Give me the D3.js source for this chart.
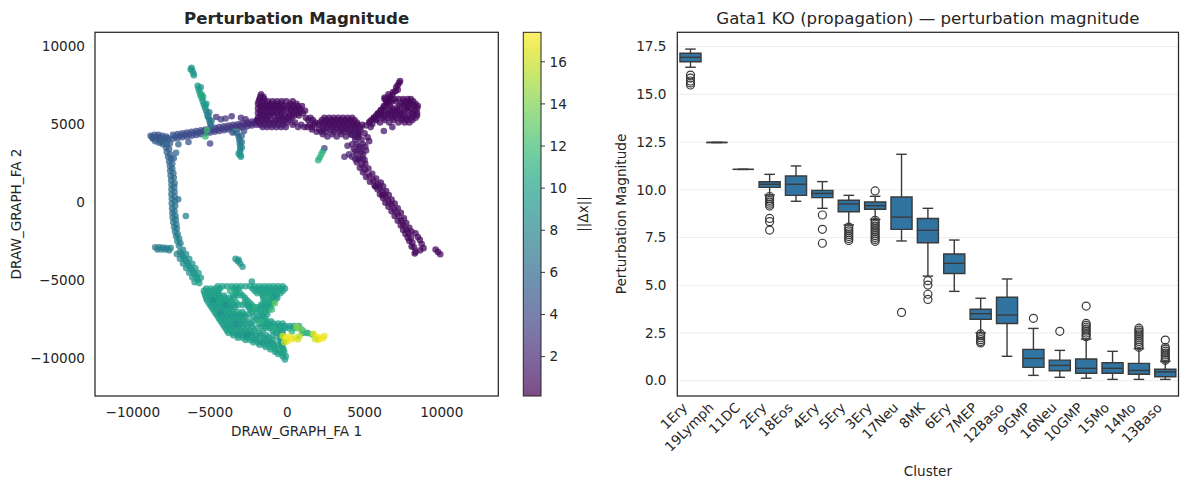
<!DOCTYPE html>
<html>
<head>
<meta charset="utf-8">
<script src="https://cdn.jsdelivr.net/npm/d3@7"></script>
<style>
  body { margin: 0; background: #fff; }
  svg text { font-family: "DejaVu Sans", sans-serif; fill: #262626; }
</style>
</head>
<body>
<div id="chart"></div>
<script>
/**
 * DATA — left panel: cells on the force-directed layout, [x, y, ||dx||]
 * */
const spikeTop = [[-6200,8600,9.4],[-6150,8430,9.6],[-6080,8250,9.5],[-6050,8120,9.3],[-6250,8500,9.2]];

const branchUpperLeft = [
  [-5800,7450,9.3],[-5750,7250,9.6],[-5680,7050,10.0],[-5620,6850,10.3],[-5540,6650,10.1],[-5470,6450,9.6],
  [-5400,6250,9.1],[-5330,6050,8.7],[-5250,5850,8.3],[-5180,5650,7.9],[-5110,5450,7.6],[-5050,5250,7.2],
  [-5000,5050,6.8],[-4950,4850,6.4],[-5550,6900,10.5],[-5300,6150,9.8],[-5150,5500,8.0],[-5200,4600,12.0],
  [-5600,7350,9.0],[-5450,6750,10.2],[-5250,6300,9.4],[-5050,5750,7.5],[-4900,5200,7.0]
];

const bandUpperLeft = [
  [-8850,4250,4.6],[-8600,4300,4.8],[-8350,4300,4.7],[-8100,4250,4.9],[-7850,4200,5.0],
  [-8700,4050,4.9],[-8450,4050,5.1],[-8200,4000,5.0],[-7950,3950,5.2],[-7700,4000,5.0],
  [-8300,3800,5.3],[-8050,3700,5.5],[-7800,3700,5.6],[-7600,3750,5.4],
  [-8750,4150,4.5],[-8500,4180,4.9],[-8250,4150,4.6],[-8000,4100,5.1],[-7750,4100,4.8],[-8550,3900,5.2],[-8150,3850,5.4],
  [-7400,4050,4.6],[-7400,4300,4.4],[-7100,4100,4.5],[-7100,4350,4.3],[-6800,4150,4.4],[-6800,4400,4.2],
  [-6500,4200,4.3],[-6500,4450,4.1],[-6200,4250,4.2],[-6200,4500,4.0],[-5900,4300,4.1],[-5900,4550,3.9],
  [-5600,4350,4.0],[-5600,4600,3.8],[-5300,4400,3.9],[-5300,4650,3.7],[-5000,4450,3.8],[-5000,4700,3.6],
  [-4700,4500,3.6],[-4700,4750,3.4],[-4400,4550,3.5],[-4400,4800,3.3],[-4100,4600,3.4],[-4100,4850,3.2],
  [-3800,4650,3.3],[-3800,4900,3.1],[-3500,4700,3.2],[-3500,4950,3.0],[-3200,4720,3.1],[-3200,4980,2.9],
  [-2900,4780,2.9],[-2900,5050,2.6],[-2600,4850,2.6],[-2600,5100,2.3],[-2300,4900,2.3],[-2300,5150,2.0],
  [-2000,4950,2.0],[-2000,5200,1.8],
  [-7250,4200,4.7],[-6950,4250,4.5],[-6650,4300,4.3],[-6350,4350,4.2],[-6050,4400,4.1],[-5750,4450,4.0],
  [-5450,4500,3.8],[-5150,4550,3.7],[-4850,4600,3.5],[-4550,4650,3.4],[-4250,4700,3.3],[-3950,4750,3.2],
  [-3650,4800,3.1],[-3350,4850,3.0],[-3050,4900,2.8],[-2750,4950,2.5],[-2450,5000,2.2],[-2150,5050,1.9],
  [-4600,5450,2.6],[-4300,5300,3.0],[-4000,5350,2.8],[-3600,5500,2.2],[-3000,5400,2.1],[-2700,5300,1.9],
  [-7050,3700,5.6],[-6400,3850,4.9],[-5000,3750,3.6],[-7200,3150,5.8],[-5300,4200,11.8],[-3400,4500,11.5]
];

const branchMid = [
  [-3250,4400,5.5],[-3150,4200,6.0],[-3100,4000,6.6],[-3080,3800,7.1],[-3060,3600,7.6],[-3050,3400,8.1],
  [-3050,3200,8.6],[-3040,3000,9.0],[-3000,2900,9.3],[-3550,4450,4.6],[-2800,4550,4.2],[-2950,3500,7.8],
  [-2950,4250,5.8],[-2950,3850,7.0],[-3150,3100,8.8]
];

const leftColumn = [
  [-7850,3500,5.5],[-7800,3200,5.6],[-7720,2900,5.7],[-7650,2600,5.9],[-7600,2300,6.0],[-7580,2000,6.0],
  [-7550,1700,6.1],[-7520,1400,6.2],[-7500,1100,6.3],[-7500,800,6.4],[-7500,500,6.4],[-7480,200,6.5],
  [-7480,-100,6.6],[-7460,-400,6.7],[-7440,-700,6.8],[-7420,-1000,6.9],[-7380,-1300,7.0],[-7330,-1600,7.1],
  [-7270,-1900,7.3],[-7200,-2200,7.4],[-7120,-2500,7.6],[-7020,-2800,7.8],
  [-7650,3400,5.4],[-7580,3050,5.6],[-7520,2750,5.7],[-7450,2150,5.9],[-7380,1850,6.0],[-7350,1550,6.1],
  [-7320,950,6.3],[-7300,650,6.4],[-7290,350,6.4],[-7280,50,6.5],[-7260,-250,6.6],[-7240,-900,6.8],
  [-7220,-1150,6.9],[-7180,-1450,7.0],[-7100,-2050,7.3],[-7000,-2350,7.5],[-6920,-2650,7.7],
  [-7450,2450,5.8],[-7300,1200,6.1],[-7300,-600,6.5],[-7150,-1700,7.0],[-7060,170,6.3],
  [-6570,-900,7.6],[-7350,2800,5.5],
  [-8550,-2900,7.2],[-8300,-2900,7.3],[-8050,-2920,7.4],[-7800,-2950,7.5],[-7550,-2950,7.6],
  [-8400,-3050,7.3],[-7900,-3050,7.5],[-8150,-3050,7.4],[-7650,-3100,7.6]
];

const leftDiagonal = [
  [-6950,-3200,8.0],[-6750,-3500,8.3],[-6550,-3800,8.6],[-6350,-4100,8.9],[-6150,-4400,9.2],[-5950,-4700,9.4],[-5800,-5000,9.6],
  [-6750,-3060,8.1],[-6550,-3360,8.4],[-6350,-3660,8.7],[-6150,-3960,9.0],[-5950,-4260,9.3],[-5750,-4560,9.5],[-5600,-4860,9.7],
  [-7150,-3340,7.9],[-6950,-3640,8.2],[-6750,-3940,8.5],[-6550,-4240,8.8],[-6350,-4540,9.1],[-6150,-4840,9.3],[-6000,-5140,9.5],
  [-6850,-3350,8.2],[-6650,-3650,8.5],[-6450,-3950,8.8],[-6250,-4250,9.0],[-6050,-4550,9.3],[-5850,-4850,9.5],[-5700,-5200,9.6]
];

// bottom blob, rows: [y, ||dx||, x positions]
const blobRows = [
  [-5400, 10.0, [-4500,-4200,-3900,-3600,-3300,-3000,-2700,-2400,-2100,-1800,-1500,-1200,-900,-600,-300]],
  [-5550, 9.7, [-5250,-4950,-4650,-4350,-3450,-3150,-2250,-1950,-1650,-1350,-1050,-750,-450,-150]],
  [-5700, 9.8, [-5400,-5100,-4800,-4500,-3300,-2100,-1800,-1500,-1200,-900,-600,-300]],
  [-5850, 10.1, [-5350,-5050,-4750,-4450,-3350,-3050,-1950,-1650,-1350,-1050,-750,-450]],
  [-6000, 10.0, [-5300,-5000,-4700,-4400,-4100,-3500,-3200,-2900,-1600,-1300,-1000,-700]],
  [-6150, 9.6, [-5250,-4950,-4650,-4350,-4050,-3750,-3450,-2750,-1550,-1250,-950,-650]],
  [-6300, 9.9, [-5200,-4900,-4600,-4300,-4000,-3700,-2600,-1400,-1100,-800]],
  [-6450, 10.2, [-5100,-4800,-4500,-4200,-3900,-3600,-3300,-2750,-2450,-1550,-1250,-950]],
  [-6600, 10.0, [-5000,-4700,-4400,-4100,-3800,-3500,-3200,-2900,-2600,-2300,-1700,-1400,-1100]],
  [-6750, 9.6, [-4900,-4600,-4300,-4000,-3700,-3400,-2500,-2200,-1950,-1650,-1350,-1100]],
  [-6900, 9.8, [-4800,-4500,-4200,-3900,-3600,-2400,-2100,-1800,-1500,-1200]],
  [-7050, 10.2, [-4700,-4400,-4100,-3800,-3500,-3200,-2900,-2300,-2000,-1700,-1400]],
  [-7200, 10.0, [-4600,-4300,-4000,-3700,-3400,-3100,-2800,-2500,-1600,-1300]],
  [-7350, 9.5, [-4500,-4200,-3900,-3600,-3300,-3000,-2700,-2200,-1850,-1550]],
  [-7500, 9.7, [-4400,-4100,-3800,-3500,-3200,-2900,-2000,-1700,-1400]],
  [-7650, 10.1, [-4300,-4000,-3700,-3400,-3100,-2800,-2500,-2150,-1650,-1350,-1050]],
  [-7800, 9.9, [-4200,-3900,-3600,-3300,-3000,-2700,-2400,-1800,-1500,-1200,-900,-600,-300]],
  [-7950, 9.6, [-4100,-3800,-3500,-3200,-2850,-2300,-1650,-1350,-1050,-750,-450,-150,150,450,750]],
  [-8100, 9.7, [-4000,-3700,-3400,-3100,-2600,-2000,-1400,-1100,-800,-500,-200,100,400]],
  [-8250, 10.1, [-3900,-3600,-3300,-3000,-2700,-2450,-2150,-1600,-950,-650,-350]],
  [-8400, 9.8, [-3800,-3500,-3200,-2900,-2600,-2300,-1800,-700,-300,1000,1300]],
  [-8550, 9.4, [-3500,-3200,-2900,-2600,-2300,-2000,-1700,-1350,-900,-450]],
  [-8700, 9.6, [-3200,-2900,-2600,-2300,-2000,-1500,-1200,-500]],
  [-8850, 10.0, [-2700,-2400,-2100,-1800,-1500,-1200,-900,-450]],
  [-9000, 9.7, [-2200,-1900,-1600,-1300,-1000,-400]],
  [-9150, 9.5, [-1800,-1500,-1200,-900,-600,-350]],
  [-9300, 9.9, [-1400,-1100,-800,-300]],
  [-9450, 10.1, [-1100,-800,-500,-250]],
  [-9600, 10.0, [-800,-500,-200]],
  [-9750, 9.7, [-600,-300]],
  [-9900, 10.0, [-300,-100]],
  [-10100, 9.8, [-150]]
];

// scattered cells inside the blob that stand out in colour
const blobAccents = [
  [-4800,-6300,8.6],[-4300,-7050,8.8],[-3300,-7800,8.7],[-2600,-8550,8.9],[-2100,-6750,11.2],
  [-1300,-6150,11.0],[-3700,-5700,10.8],[-1700,-7650,11.3],[-900,-8100,10.9],[-4000,-6600,8.7]
];

const smallCluster = [[-3350,-3650,9.0],[-3200,-3800,9.2],[-3050,-3950,9.1],[-2900,-4150,9.0],[-2300,-5100,9.5],[-3150,-3700,8.8]];

// purple region, rows: [y, ||dx||, x positions]
const purpleRows = [
  [6900, 0.8, [-1700]],
  [6750, 0.7, [-1750,-1550]],
  [6600, 0.9, [-1800,-1500]],
  [6450, 0.6, [-1850,-1550,-1250,-950,-650,-350,-50,350]],
  [6300, 0.7, [-1900,-1600,-1300,-1000,-700,-400,200,600]],
  [6150, 0.5, [-1750,-1450,-1150,-850,-550,-250,50,350,650,950]],
  [6000, 0.6, [-1900,-1600,-1300,-1000,-700,-400,-100,200,500,800]],
  [5850, 0.5, [-1750,-1450,-1150,-850,-550,-250,250,550,850,1150]],
  [5700, 0.7, [-1900,-1600,-1300,-1000,-700,-400,100,400,700,1000]],
  [5550, 0.6, [-1750,-1450,-1150,-850,-450,-150,150,450,750]],
  [5400, 0.8, [-1900,-1600,-1300,-600,-300,0,300]],
  [5250, 0.7, [-1950,-1650,-1350,-1050,-750,-450,-150,150]],
  [5100, 0.9, [-1800,-1500,-1200,-900,-600,-300,0,500]],
  [4950, 1.1, [-1750,-1450,-1150,-850,-550,-250,350,900]],
  [4800, 1.4, [-1600,-1300,-1000,-700,-400,-100,700,1100]],
  // middle band
  [5400, 0.8, [1200,1500,2400,2700,3000,3300,3600,3900,4200]],
  [5250, 0.6, [1350,1650,2250,2550,2850,3150,3450,3750,4050,4350]],
  [5100, 0.6, [1800,2100,2400,2700,3000,3300,3600,3900,4200,4500]],
  [4950, 0.5, [1450,1750,2050,2450,2750,3050,3350,3650,3950,4250,4550,4850]],
  [4800, 0.7, [1300,1600,2300,2600,2900,3200,3500,3800,4100,4400,4700]],
  [4650, 0.8, [1600,2050,2350,2750,3150,3550,3850,4150,4450,4750]],
  [4500, 0.9, [1900,2200,2500,3000,3400,3700,4000,4300,4600]],
  [4350, 1.0, [2300,2900,3500,4100,4600]],
  [4200, 1.1, [2600,3200,3800,4400]],
  // right node
  [6600, 0.5, [6300,6600,6900,7200,7500,7800,8000]],
  [6450, 0.4, [6400,6750,7050,7550,7850,8150]],
  [6300, 0.5, [6500,7400,7700,8000,8300]],
  [6150, 0.4, [6350,6650,7250,7550,7850,8200,8450]],
  [6000, 0.6, [6200,6800,7100,7700,8000,8400]],
  [5850, 0.5, [6050,6350,6650,6950,7250,7550,7850,8250]],
  [5700, 0.6, [5900,6500,6800,7100,7400,8100,8400]],
  [5550, 0.5, [5750,6050,6350,6650,6950,7250,7550,7850,8150,8400]],
  [5400, 0.7, [5600,6200,6500,6800,7100,7400,7700,8000,8300]],
  [5250, 0.6, [5450,5750,6300,6900,7400,7750,8100]],
  [5100, 0.8, [5300,6000,6600,7200,7600,7900]],
  [4800, 1.0, [5400,6800]],
  [4550, 1.3, [6250]]
];

const upperRightArm = [
  [5100,4900,0.7],[5350,5150,0.6],[5600,5400,0.6],[5850,5650,0.5],[6050,5900,0.5],[6250,6150,0.5],
  [6450,6450,0.4],[6650,6750,0.4],[6850,7050,0.4],[7050,7350,0.4],[7250,7650,0.4],[5500,5000,0.7],
  [5800,5300,0.6],[6100,5600,0.6],[6650,6500,0.5],[7000,7100,0.4],[7150,7500,0.4],
  [6550,6900,0.4],[6800,6850,0.4],[7150,7200,0.4],[7300,7750,0.4],[6300,6700,0.5]
];

const junction = [
  [4200,4300,1.0],[4600,4300,0.9],[5000,4400,0.8],[4400,4000,1.1],[4800,4000,0.9],[4500,3700,1.2],
  [4900,3700,1.0],[4300,3400,1.3],[4700,3400,1.1],[5100,3300,1.0],[4500,3100,1.2],[4900,3050,1.0],
  [4200,2900,1.5],[3700,2900,2.0],[4600,2800,1.2],[5000,2700,1.0],[3900,3600,1.6],[5300,3900,0.9],
  [4600,4150,0.9],[4200,3700,1.2],[4650,3550,1.0],[5050,3550,0.9],[4400,3250,1.2],[4800,3200,1.0],
  [4000,3050,1.5],[5200,4150,0.8],[4400,2750,1.3]
];

const rightDiagonal = [
  [4660,2690,0.9],[4850,2350,0.8],[5050,2050,0.8],[5300,1700,0.7],[5550,1400,0.7],[5850,1150,0.7],
  [6000,900,0.6],[6200,600,0.6],[6370,340,0.6],[6550,50,0.6],[6750,-200,0.5],[6950,-500,0.5],
  [7150,-800,0.5],[7350,-1150,0.5],[7500,-1450,0.5],[7700,-1750,0.5],[7840,-2000,0.5],[8000,-2300,0.5],
  [8100,-2600,0.5],[8200,-2900,0.5],[8300,-3200,0.5],
  [4860,2790,0.9],[5050,2450,0.8],[5250,2150,0.8],[5500,1800,0.7],[5750,1500,0.7],[6050,1250,0.6],
  [6200,1000,0.6],[6400,700,0.6],[6570,440,0.6],[6750,150,0.5],[6950,-100,0.5],[7150,-400,0.5],
  [7350,-700,0.5],[7550,-1050,0.5],[7700,-1350,0.5],[7900,-1650,0.5],[8040,-1900,0.5],
  [4500,2550,0.9],[4700,2200,0.8],[4900,1900,0.8],[5350,1300,0.7],[5650,1050,0.7],[5850,800,0.6],
  [6000,500,0.6],[6200,250,0.6],[6350,-50,0.6],[6750,-600,0.5],[7150,-1200,0.5],[7500,-1800,0.5],
  [7800,-2300,0.5],[6550,-300,0.5],[6950,-900,0.5],[7350,-1500,0.5],[7650,-2050,0.5],[7900,-2500,0.5],
  [8300,-2000,0.5],[8450,-2250,0.5],[8580,-2430,0.5],[8700,-2700,0.5],[8820,-2960,0.5],[8600,-3100,0.5],
  [5100,1600,0.7],[5700,1000,0.6],[6150,450,0.6],[8050,-2850,0.5],[8250,-3300,0.5],
  [9600,-3050,0.6],[9750,-3200,0.6],[9900,-3350,0.6]
];

const greenCluster = [[2400,3450,3.0],[2300,3250,10.5],[2200,3050,11.2],[2100,2850,11.4],[2000,2680,11.0]];

const hotSpots = [
  [700,-8100,12.0],[1000,-8250,11.5],[1300,-8400,11.8],[1600,-8500,12.2],[300,-8300,11.6],
  [-300,-8600,16.5],[-100,-8750,17.0],[100,-8650,16.8],[300,-8800,17.2],[500,-8700,16.6],[700,-8800,16.2],
  [0,-8950,16.9],[-200,-9000,15.8],[800,-8600,15.5],
  [1700,-8450,16.4],[1900,-8650,17.1],[2100,-8700,17.3],[2300,-8750,17.2],[2400,-8600,16.8],[2000,-8850,16.9],
  [1800,-8800,16.0],[600,-8000,14.5],[900,-8150,13.5],[-800,-6500,13.0],[-1000,-6900,12.0]
];

const scatterXTicks = [-10000, -5000, 0, 5000, 10000];
const scatterYTicks = [10000, 5000, 0, -5000, -10000];
const colorTicks = [2, 4, 6, 8, 10, 12, 14, 16];

/**
 * DATA — right panel: box plot summaries per cluster
 * */
const clusters = ["1Ery","19Lymph","11DC","2Ery","18Eos","4Ery","5Ery","3Ery","17Neu","8MK",
  "6Ery","7MEP","12Baso","9GMP","16Neu","10GMP","15Mo","14Mo","13Baso"];
const whiskerLow  = [16.42,12.48,11.07,9.73,9.40,9.03,8.16,8.45,7.32,5.48,4.68,2.51,1.28,0.28,0.18,0.13,0.07,0.07,0.07];
const q1          = [16.71,12.48,11.07,10.13,9.71,9.59,8.85,8.98,7.93,7.23,5.62,3.22,3.00,0.70,0.52,0.39,0.39,0.34,0.21];
const medians     = [16.94,12.48,11.07,10.29,10.29,9.81,9.26,9.17,8.57,7.88,6.15,3.51,3.44,1.17,0.80,0.65,0.65,0.54,0.46];
const q3          = [17.15,12.48,11.07,10.42,10.72,9.97,9.45,9.36,9.62,8.50,6.64,3.74,4.37,1.64,1.08,1.14,0.94,0.91,0.60];
const whiskerHigh = [17.37,12.48,11.07,10.81,11.25,10.43,9.71,9.66,11.86,9.03,7.37,4.32,5.33,2.74,1.59,2.18,1.54,1.68,1.02];
const outliers = [
  [16.01,15.85,15.7,15.6,15.49],
  [], [],
  [9.65,9.55,9.45,9.35,9.25,9.15,8.5,8.33,7.89],
  [],
  [8.68,7.93,7.2],
  [8.05,7.95,7.85,7.75,7.65,7.55,7.45,7.35],
  [9.94,8.4,8.3,8.2,8.1,8.0,7.9,7.8,7.7,7.6,7.5,7.4,7.3],
  [3.58],
  [5.24,5.01,4.53,4.26],
  [],
  [2.45,2.35,2.25,2.15,2.05,1.98],
  [],
  [3.27],
  [2.59],
  [3.91,3.0,2.9,2.8,2.7,2.6,2.5,2.4,2.3],
  [],
  [2.75,2.65,2.55,2.45,2.35,2.25,2.15,2.05,1.95,1.85,1.75],
  [2.13,1.75,1.65,1.55,1.45,1.35,1.25,1.15,1.07]
];
const boxYTicks = [0, 2.5, 5, 7.5, 10, 12.5, 15, 17.5];

/**
 * SETUP
 * */
const W = 1189, H = 490;
const ink = "#262626";
const svg = d3.select("#chart").append("svg").attr("width", W).attr("height", H);

/* ---------- left: scatter ---------- */
const sx = d3.scaleLinear().domain([-12450, 13660]).range([95, 498.3]);
const sy = d3.scaleLinear().domain([-12440, 10880]).range([396, 32.3]);
const cDomain = [0.13, 17.4];
const cNorm = d3.scaleLinear().domain(cDomain).range([0, 1]).clamp(true);
const colorOf = v => d3.interpolateViridis(cNorm(v));

const rowsToPoints = rows => rows.flatMap(([y, v, xs]) => xs.map(x => [x, y, v]));

const cells = [].concat(
  leftColumn, bandUpperLeft, spikeTop, branchUpperLeft, branchMid, leftDiagonal,
  rowsToPoints(blobRows), blobAccents, smallCluster, rowsToPoints(purpleRows), upperRightArm,
  junction, rightDiagonal, greenCluster, hotSpots
);

const left = svg.append("g");
left.append("g")
  .selectAll("circle")
  .data(cells)
  .join("circle")
  .attr("cx", d => sx(d[0]))
  .attr("cy", d => sy(d[1]))
  .attr("r", 3.3)
  .attr("fill", d => colorOf(d[2]))
  .attr("fill-opacity", 0.75);

left.append("rect")
  .attr("x", 95).attr("y", 32.3).attr("width", 498.3 - 95).attr("height", 396 - 32.3)
  .attr("fill", "none").attr("stroke", ink).attr("stroke-width", 1.25);

left.selectAll(".xt").data(scatterXTicks).join("text")
  .attr("x", d => sx(d)).attr("y", 416.5)
  .attr("text-anchor", "middle").style("font-size", "13.6px")
  .text(d => String(d).replace("-", "\u2212"));

left.selectAll(".yt").data(scatterYTicks).join("text")
  .attr("x", 85).attr("y", d => sy(d)).attr("dy", "0.35em")
  .attr("text-anchor", "end").style("font-size", "13.6px")
  .text(d => String(d).replace("-", "\u2212"));

left.append("text").attr("x", 296.6).attr("y", 436)
  .attr("text-anchor", "middle").style("font-size", "13.6px").text("DRAW_GRAPH_FA 1");
left.append("text").attr("transform", "translate(21,214) rotate(-90)")
  .attr("text-anchor", "middle").style("font-size", "13.6px").text("DRAW_GRAPH_FA 2");
left.append("text").attr("x", 296.6).attr("y", 23.5)
  .attr("text-anchor", "middle").style("font-size", "16.6px").style("font-weight", "bold")
  .text("Perturbation Magnitude");

/* ---------- colorbar ---------- */
const cb = svg.append("g");
const cbScale = d3.scaleLinear().domain(cDomain).range([396, 32.3]);
const grad = svg.append("defs").append("linearGradient")
  .attr("id", "viridisGrad").attr("x1", 0).attr("y1", 1).attr("x2", 0).attr("y2", 0);
d3.range(0, 1.0001, 0.05).forEach(t => {
  grad.append("stop").attr("offset", t).attr("stop-color", d3.interpolateViridis(t));
});
cb.append("rect")
  .attr("x", 523.3).attr("y", 32.3).attr("width", 541 - 523.3).attr("height", 396 - 32.3)
  .attr("fill", "url(#viridisGrad)").attr("fill-opacity", 0.7);
cb.append("rect")
  .attr("x", 523.3).attr("y", 32.3).attr("width", 541 - 523.3).attr("height", 396 - 32.3)
  .attr("fill", "none").attr("stroke", ink).attr("stroke-width", 1);
cb.selectAll("line").data(colorTicks).join("line")
  .attr("x1", 541).attr("x2", 545).attr("y1", d => cbScale(d)).attr("y2", d => cbScale(d))
  .attr("stroke", ink).attr("stroke-width", 0.9);
cb.selectAll(".ct").data(colorTicks).join("text")
  .attr("x", 549.5).attr("y", d => cbScale(d)).attr("dy", "0.35em")
  .style("font-size", "13.6px").text(d => d);
cb.append("text").attr("transform", "translate(588,214) rotate(-90)")
  .attr("text-anchor", "middle").style("font-size", "13.6px").text("||\u0394x||");

/* ---------- right: box plot ---------- */
const bx = d3.scaleBand().domain(clusters).range([677.3, 1178.5]).padding(0);
const by = d3.scaleLinear().domain([-0.8, 18.25]).range([396, 32.3]);
const right = svg.append("g");

right.selectAll(".grid").data(boxYTicks).join("line")
  .attr("x1", 677.3).attr("x2", 1178.5).attr("y1", d => by(d)).attr("y2", d => by(d))
  .attr("stroke", "#ebebeb").attr("stroke-width", 0.9);

const boxColor = "#3274a1", lineColor = "#3a3a3a";
const bw = bx.bandwidth() * 0.8;
clusters.forEach((c, i) => {
  const cx = bx(c) + bx.bandwidth() / 2;
  const g = right.append("g");
  // whiskers
  g.append("line").attr("x1", cx).attr("x2", cx).attr("y1", by(q3[i])).attr("y2", by(whiskerHigh[i]))
    .attr("stroke", lineColor).attr("stroke-width", 1.4);
  g.append("line").attr("x1", cx).attr("x2", cx).attr("y1", by(q1[i])).attr("y2", by(whiskerLow[i]))
    .attr("stroke", lineColor).attr("stroke-width", 1.4);
  [whiskerHigh[i], whiskerLow[i]].forEach(v => {
    g.append("line").attr("x1", cx - bw / 4).attr("x2", cx + bw / 4).attr("y1", by(v)).attr("y2", by(v))
      .attr("stroke", lineColor).attr("stroke-width", 1.4);
  });
  // box
  const x0 = cx - bw / 2, x1 = cx + bw / 2, yt = by(q3[i]), yb = by(q1[i]);
  g.append("path")
    .attr("d", `M${x0},${yt}L${x1},${yt}L${x1},${yb}L${x0},${yb}Z`)
    .attr("fill", boxColor).attr("stroke", lineColor).attr("stroke-width", 1.4);
  g.append("line").attr("x1", x0).attr("x2", x1).attr("y1", by(medians[i])).attr("y2", by(medians[i]))
    .attr("stroke", lineColor).attr("stroke-width", 1.4);
  // fliers
  g.selectAll("circle").data(outliers[i]).join("circle")
    .attr("cx", cx).attr("cy", d => by(d)).attr("r", 4)
    .attr("fill", "none").attr("stroke", lineColor).attr("stroke-width", 1.2);
});

right.append("rect")
  .attr("x", 677.3).attr("y", 32.3).attr("width", 1178.5 - 677.3).attr("height", 396 - 32.3)
  .attr("fill", "none").attr("stroke", ink).attr("stroke-width", 1.25);

right.selectAll(".yt").data(boxYTicks).join("text")
  .attr("x", 666.5).attr("y", d => by(d)).attr("dy", "0.35em")
  .attr("text-anchor", "end").style("font-size", "13.6px")
  .text(d => d3.format(".1f")(d));

right.selectAll(".xt").data(clusters).join("text")
  .attr("transform", d => `translate(${bx(d) + bx.bandwidth() / 2 - 2.3},408.5) rotate(-45)`)
  .attr("text-anchor", "end").style("font-size", "13.6px")
  .text(d => d);

right.append("text").attr("x", 927.9).attr("y", 476)
  .attr("text-anchor", "middle").style("font-size", "13.6px").text("Cluster");
right.append("text").attr("transform", "translate(626,214) rotate(-90)")
  .attr("text-anchor", "middle").style("font-size", "13.6px").text("Perturbation Magnitude");
right.append("text").attr("x", 927.9).attr("y", 23.5)
  .attr("text-anchor", "middle").style("font-size", "16.6px")
  .text("Gata1 KO (propagation) \u2014 perturbation magnitude");
</script>
</body>
</html>
